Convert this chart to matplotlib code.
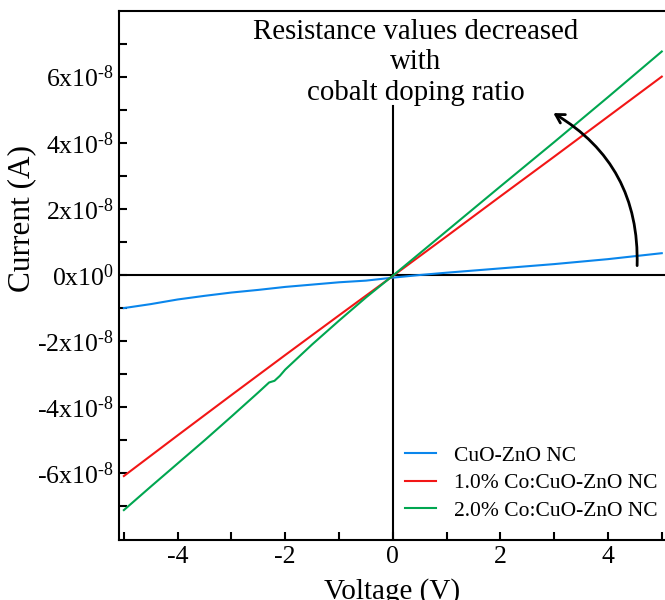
import matplotlib
matplotlib.use("Agg")
import matplotlib.pyplot as plt

plt.rcParams['font.family'] = ['Liberation Serif', 'DejaVu Serif']
plt.rcParams['mathtext.fontset'] = 'custom'
plt.rcParams['mathtext.rm'] = 'Liberation Serif'
plt.rcParams['mathtext.it'] = 'Liberation Serif:italic'
plt.rcParams['axes.unicode_minus'] = False

# I-V sweeps (voltage in V, current in units of 1e-8 A)
v_pure = [-5, -4.5, -4, -3.5, -3, -2.5, -2, -1.5, -1, -0.5, 0, 0.5, 1, 2, 3, 4, 5]
i_pure = [-1.0, -0.88, -0.74, -0.63, -0.53, -0.45, -0.36, -0.29, -0.22, -0.17, -0.08,
          0.0, 0.07, 0.2, 0.33, 0.48, 0.66]

v_co1 = [-5, -4, -3, -2, -1, 0, 1, 2, 3, 4, 5]
i_co1 = [-6.08, -4.85, -3.63, -2.42, -1.22, -0.03, 1.17, 2.38, 3.58, 4.79, 6.0]

v_co2 = [-5, -4.5, -4, -3.5, -3, -2.5, -2.3, -2.2, -2.1, -2.0, -1.5, -1, -0.5, 0, 1, 2, 3, 4, 5]
i_co2 = [-7.11, -6.4, -5.7, -5.0, -4.28, -3.55, -3.25, -3.2, -3.05, -2.86, -2.1, -1.38,
         -0.68, -0.02, 1.33, 2.68, 4.02, 5.38, 6.76]

series_labels = ['CuO-ZnO NC', '1.0% Co:CuO-ZnO NC', '2.0% Co:CuO-ZnO NC']
series_colors = ['#0a86ec', '#f21616', '#00a650']

# hyphen (U+2010) keeps the exponent sign short like a plain dash
ytick_vals = [-6, -4, -2, 0, 2, 4, 6]
ytick_labels = ['-6x10$^{\u20108}$', '-4x10$^{\u20108}$', '-2x10$^{\u20108}$', '0x10$^{0}$',
                '2x10$^{\u20108}$', '4x10$^{\u20108}$', '6x10$^{\u20108}$']
xtick_vals = [-4, -2, 0, 2, 4]

scale = 1e-8

fig = plt.figure(figsize=(6.65, 6.0), dpi=100)
ax = fig.add_axes([0.179, 0.1008, 0.821, 0.8817])

for v, i, lab, col in zip([v_pure, v_co1, v_co2], [i_pure, i_co1, i_co2],
                          series_labels, series_colors):
    ax.plot(v, [x * scale for x in i], color=col, lw=1.5, label=lab)

ax.set_xlim(-5.09, 5.06)
ax.set_ylim(-8e-8, 8e-8)

# origin cross-hair
ax.axhline(0, color='black', lw=1.5, zorder=1)
ax.plot([0, 0], [-8e-8, 5.12e-8], color='black', lw=1.5, zorder=1)

ax.set_xticks(xtick_vals)
ax.set_xticks([-5, -3, -1, 1, 3, 5], minor=True)
ax.set_yticks([v * scale for v in ytick_vals])
ax.set_yticklabels(ytick_labels)
ax.set_yticks([v * scale for v in range(-7, 8, 2)], minor=True)
ax.tick_params(which='both', direction='in', length=6, width=1.5, labelsize=18.5)
ax.tick_params(axis='y', which='major', pad=4)
ax.tick_params(axis='x', which='major', pad=5)

for side in ['left', 'bottom', 'top']:
    ax.spines[side].set_linewidth(1.5)
ax.spines['right'].set_visible(False)

ax.set_xlabel('Voltage (V)', fontsize=21)
ax.set_ylabel('Current (A)', fontsize=22.5)
ax.xaxis.set_label_coords(0.5, -0.072)
ax.yaxis.set_label_coords(-0.152, 0.606)

ax.text(0.42, 7.75e-8, 'Resistance values decreased\nwith\ncobalt doping ratio',
        ha='center', va='top', fontsize=20.8, linespacing=1.23)
ax.annotate('', xy=(2.94, 4.94e-8), xytext=(4.54, 0.2e-8),
            arrowprops=dict(arrowstyle='->, head_length=0.6, head_width=0.35',
                            connectionstyle='arc3,rad=0.3', color='black', lw=2))

ax.legend(loc='upper left', bbox_to_anchor=(0.524, 0.177), frameon=False,
          fontsize=15.5, handlelength=1.44, handletextpad=0.84, labelspacing=0.34,
          borderpad=0, borderaxespad=0)

fig.savefig('out.png', dpi=100)
